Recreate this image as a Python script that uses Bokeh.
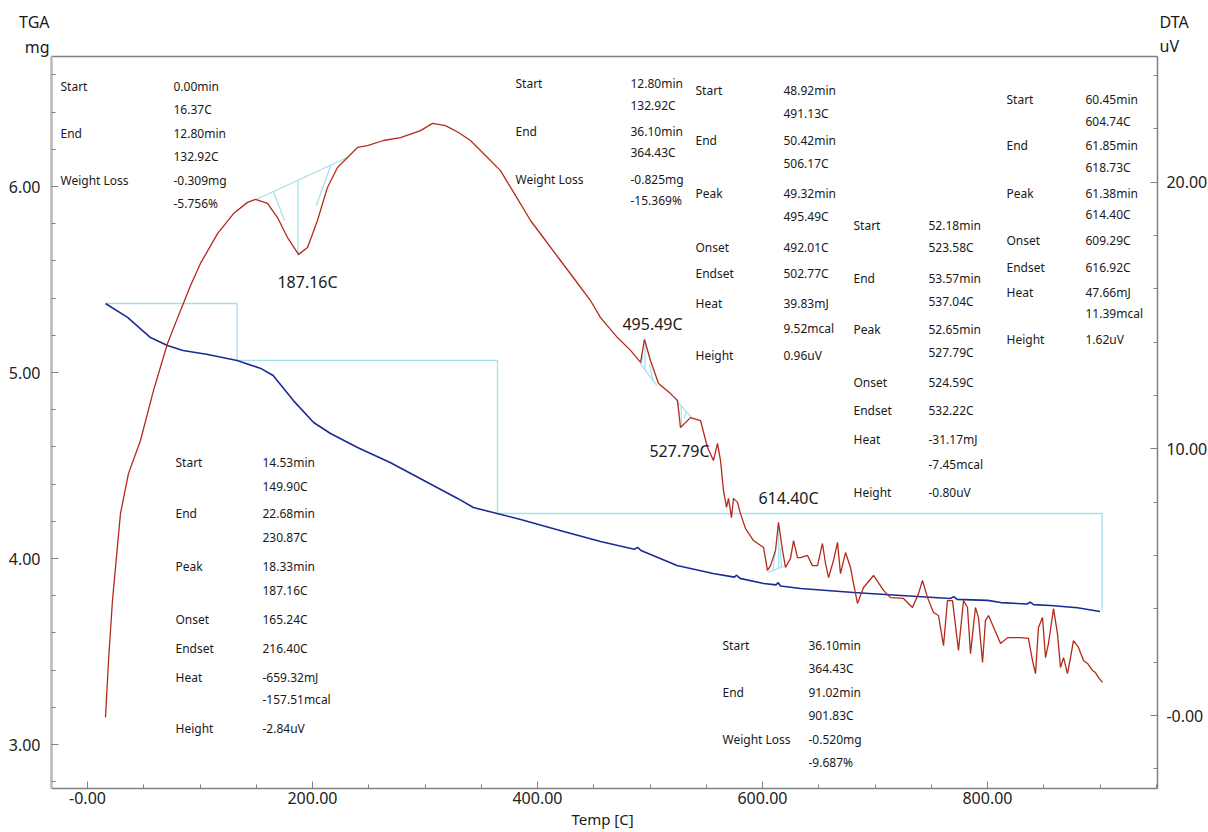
import numpy as np
from bokeh.plotting import figure
from bokeh.models import Range1d, LinearAxis, ColumnDataSource, FixedTicker
from bokeh.embed import file_html
from bokeh.resources import INLINE
from bokeh.core.properties import value

# ---------------- data ----------------
tga_temp = [16.0, 35.6, 56.0, 71.0, 85.0, 107.0, 133.0, 154.0, 165.0, 183.0, 201.0, 216.0,
            240.0, 269.0, 299.0, 329.0, 343.0, 364.0, 385.0, 420.0, 456.0, 486.0, 489.0,
            492.0, 524.0, 556.0, 575.0, 577.0, 580.0, 601.0, 612.0, 614.0, 616.0, 634.0,
            681.0, 723.0, 767.0, 770.0, 773.0, 800.0, 812.0, 835.0, 838.0, 841.0, 856.0,
            880.0, 900.0]
tga_mg = [5.371, 5.296, 5.188, 5.145, 5.118, 5.097, 5.065, 5.022, 4.984, 4.849, 4.731, 4.672,
          4.597, 4.516, 4.419, 4.323, 4.274, 4.242, 4.210, 4.151, 4.091, 4.050, 4.060,
          4.043, 3.962, 3.919, 3.900, 3.910, 3.893, 3.866, 3.858, 3.870, 3.852, 3.839,
          3.817, 3.801, 3.785, 3.795, 3.780, 3.775, 3.763, 3.755, 3.765, 3.752, 3.747,
          3.735, 3.715]

dta_temp = [16.0, 18.7, 22.2, 29.3, 36.4, 47.1, 58.7, 71.1, 82.7, 91.6, 100.4, 115.6, 129.8,
            142.2, 149.3, 160.0, 168.9, 177.8, 187.6, 195.6, 204.4, 213.3, 222.2, 231.1,
            240.0, 248.9, 263.1, 278.2, 296.0, 306.7, 318.2, 329.8, 340.4, 353.8, 367.1,
            380.4, 393.8, 407.1, 420.4, 433.8, 447.1, 456.0, 471.1, 482.7, 491.6, 495.1,
            500.4, 507.6, 518.2, 524.4, 527.1, 536.0, 544.9, 551.1, 556.4, 560.0, 562.7,
            565.3, 568.0, 569.8, 572.4, 574.2, 577.8, 580.4, 584.9, 592.0, 600.9, 604.4,
            607.1, 611.6, 614.2, 617.8, 620.4, 624.9, 627.6, 631.1, 633.8, 640.0, 644.4,
            648.9, 653.3, 656.0, 658.7, 663.1, 666.7, 669.3, 673.8, 678.2, 680.9, 684.4,
            689.8, 698.7, 707.6, 713.8, 725.3, 733.3, 738.7, 742.2, 746.7, 752.0, 756.4,
            760.9, 764.4, 768.9, 774.2, 778.7, 782.2, 784.9, 789.3, 792.0, 795.6, 798.2,
            800.9, 811.6, 817.8, 829.3, 836.4, 840.0, 842.7, 845.3, 848.9, 851.6, 854.2,
            858.7, 862.2, 864.9, 867.6, 871.1, 873.8, 876.4, 880.9, 885.3, 888.9, 893.3,
            896.0, 898.7, 902.2]
dta_uv = [-0.07, 2.06, 4.31, 7.57, 9.07, 10.31, 12.19, 13.95, 15.19, 16.12, 16.95, 18.07, 18.82,
          19.24, 19.35, 19.20, 18.67, 17.92, 17.29, 17.55, 18.56, 19.80, 20.55, 20.92,
          21.30, 21.37, 21.56, 21.67, 21.93, 22.20, 22.12, 21.86, 21.56, 21.00, 20.43,
          19.50, 18.56, 17.81, 17.06, 16.31, 15.56, 14.92, 14.17, 13.69, 13.24, 14.10,
          13.31, 12.45, 12.07, 11.81, 10.80, 11.17, 11.06, 10.05, 9.56, 10.20, 9.56,
          8.44, 7.80, 8.14, 7.42, 8.14, 7.99, 7.57, 7.01, 6.56, 6.30, 5.44,
          5.62, 6.19, 7.24, 6.19, 5.55, 5.89, 6.56, 5.92, 5.92, 6.00, 5.62,
          5.62, 6.45, 5.70, 5.17, 5.81, 6.49, 5.32, 6.11, 5.55, 4.95, 4.20,
          4.80, 5.25, 4.69, 4.42, 4.39, 4.05, 4.57, 5.06, 4.42, 3.86, 3.75,
          2.62, 4.31, 4.31, 2.44, 4.31, 4.05, 2.32, 4.05, 3.67, 1.99, 3.56,
          3.75, 2.70, 2.92, 2.92, 2.89, 2.06, 1.57, 3.30, 3.67, 2.17, 2.70,
          4.01, 3.07, 1.80, 2.17, 1.57, 2.17, 2.81, 2.55, 2.06, 1.95, 1.69,
          1.61, 1.42, 1.24]

# TGA step analysis (start temps / end temps / masses)
step_temp = [16.37, 132.92, 132.92, 364.43, 364.43, 901.83, 901.83]
step_mg = [5.371, 5.371, 5.065, 5.065, 4.242, 4.242, 3.715]

# DTA peak analysis
peak_start = [149.90, 491.13, 523.58, 604.74]
peak_end = [230.87, 506.17, 537.04, 618.73]
peak_base_start = [19.35, 13.20, 11.81, 5.36]
peak_base_end = [20.92, 12.37, 11.17, 5.59]
peak_temp = [187.16, 495.49, 527.79, 614.40]
peak_height = [-2.84, 0.96, -0.80, 1.62]
peak_onset = [165.24, 492.01, 524.59, 609.29]
peak_endset = [216.40, 502.77, 532.22, 616.92]
peak_labels = ["187.16C", "495.49C", "527.79C", "614.40C"]

x_ticks = [0, 200, 400, 600, 800]
x_tick_labels = ["-0.00", "200.00", "400.00", "600.00", "800.00"]
tga_ticks = [3, 4, 5, 6]
tga_tick_labels = ["3.00", "4.00", "5.00", "6.00"]
dta_ticks = [0, 10, 20]
dta_tick_labels = ["-0.00", "10.00", "20.00"]

# annotation blocks: (px_x, px_y, text)   -- layout positions in window pixels
blocks = [
    (60, 86, "Start"), (173, 86, "0.00min"), (173, 109, "16.37C"),
    (60, 133, "End"), (173, 133, "12.80min"), (173, 156, "132.92C"),
    (60, 180, "Weight Loss"), (173, 180, "-0.309mg"), (173, 203, "-5.756%"),

    (515, 83, "Start"), (630, 83, "12.80min"), (630, 105, "132.92C"),
    (515, 131, "End"), (630, 131, "36.10min"), (630, 152, "364.43C"),
    (515, 179, "Weight Loss"), (630, 179, "-0.825mg"), (630, 200, "-15.369%"),

    (695, 90, "Start"), (783, 90, "48.92min"), (783, 113, "491.13C"),
    (695, 140, "End"), (783, 140, "50.42min"), (783, 163, "506.17C"),
    (695, 193, "Peak"), (783, 193, "49.32min"), (783, 216, "495.49C"),
    (695, 247, "Onset"), (783, 247, "492.01C"),
    (695, 273, "Endset"), (783, 273, "502.77C"),
    (695, 303, "Heat"), (783, 303, "39.83mJ"), (783, 328, "9.52mcal"),
    (695, 355, "Height"), (783, 355, "0.96uV"),

    (853, 225, "Start"), (928, 225, "52.18min"), (928, 247, "523.58C"),
    (853, 278, "End"), (928, 278, "53.57min"), (928, 301, "537.04C"),
    (853, 329, "Peak"), (928, 329, "52.65min"), (928, 352, "527.79C"),
    (853, 382, "Onset"), (928, 382, "524.59C"),
    (853, 410, "Endset"), (928, 410, "532.22C"),
    (853, 439, "Heat"), (928, 439, "-31.17mJ"), (928, 464, "-7.45mcal"),
    (853, 492, "Height"), (928, 492, "-0.80uV"),

    (1006, 99, "Start"), (1085, 99, "60.45min"), (1085, 121, "604.74C"),
    (1006, 145, "End"), (1085, 145, "61.85min"), (1085, 167, "618.73C"),
    (1006, 193, "Peak"), (1085, 193, "61.38min"), (1085, 214, "614.40C"),
    (1006, 240, "Onset"), (1085, 240, "609.29C"),
    (1006, 267, "Endset"), (1085, 267, "616.92C"),
    (1006, 292, "Heat"), (1085, 292, "47.66mJ"), (1085, 313, "11.39mcal"),
    (1006, 339, "Height"), (1085, 339, "1.62uV"),

    (175, 462, "Start"), (262, 462, "14.53min"), (262, 486, "149.90C"),
    (175, 513, "End"), (262, 513, "22.68min"), (262, 537, "230.87C"),
    (175, 566, "Peak"), (262, 566, "18.33min"), (262, 590, "187.16C"),
    (175, 619, "Onset"), (262, 619, "165.24C"),
    (175, 648, "Endset"), (262, 648, "216.40C"),
    (175, 677, "Heat"), (262, 677, "-659.32mJ"), (262, 699, "-157.51mcal"),
    (175, 728, "Height"), (262, 728, "-2.84uV"),

    (722, 645, "Start"), (808, 645, "36.10min"), (808, 668, "364.43C"),
    (722, 692, "End"), (808, 692, "91.02min"), (808, 715, "901.83C"),
    (722, 739, "Weight Loss"), (808, 739, "-0.520mg"), (808, 762, "-9.687%"),
]
peak_label_pos = [(307, 281), (652, 323), (679, 450), (788, 497)]
unit_titles = [(49, 21, "TGA", "right"), (49, 46, "mg", "right"),
               (1159, 21, "DTA", "left"), (1159, 45, "uV", "left")]

# ---------------- geometry ----------------
W, H = 1208, 830
X_LO, X_HI = -32.0, 951.0          # visible plot box (temperature)
TGA_LO, TGA_HI = 2.763, 6.699      # visible plot box (mg)
DTA_LO, DTA_HI = -2.74, 24.71      # visible plot box (uV)
# whole canvas in data units (frame fills the canvas; axes sit at fixed locations)
XC = ((0 - 87.0) / 1.125, (W - 87.0) / 1.125)
TC = (6.0 - (H - 186.0) / 186.0, 6.0 + 186.0 / 186.0)
DC = ((715.0 - H) / 26.67, 715.0 / 26.67)


def px_to_data(x, y):
    return (x - 87.0) / 1.125, 6.0 - (y - 186.0) / 186.0


RED = "#b42a1a"
BLUE = "#1a2b96"
CYAN = "#a3e0ea"
AXC = "#808080"
TXT = "#1a1a1a"
FONT = "Noto Sans"

p = figure(width=W, height=H, output_backend="svg", toolbar_location=None,
           x_range=Range1d(*XC), y_range=Range1d(*TC),
           min_border_left=0, min_border_right=0, min_border_top=0, min_border_bottom=0)
p.extra_y_ranges = {"dta": Range1d(*DC)}
p.xgrid.visible = False
p.ygrid.visible = False
p.outline_line_color = None
p.background_fill_color = "white"
p.border_fill_color = "white"


def style_axis(ax, minor, major, labels, color, width):
    ax.ticker = FixedTicker(ticks=major, minor_ticks=minor)
    ax.major_label_overrides = {t: l for t, l in zip(major, labels)}
    ax.axis_line_color = color
    ax.axis_line_width = width
    ax.major_tick_line_color = AXC
    ax.minor_tick_line_color = AXC
    ax.major_tick_in = 7
    ax.major_tick_out = 0
    ax.minor_tick_in = 4
    ax.minor_tick_out = 0
    ax.major_label_text_font = FONT
    ax.major_label_text_font_size = "16px"
    ax.major_label_text_color = "#222222"


xa = p.xaxis[0]
style_axis(xa, list(np.arange(50, 951, 50)), x_ticks, x_tick_labels, AXC, 1.5)
xa.fixed_location = TGA_LO
xa.bounds = (X_LO, X_HI)
xa.major_label_standoff = 3
xa.axis_label = "Temp  [C]"
xa.axis_label_standoff = 2
xa.axis_label_text_font = FONT
xa.axis_label_text_font_size = "15px"
xa.axis_label_text_font_style = "normal"
xa.axis_label_text_color = TXT

ya = p.yaxis[0]
style_axis(ya, list(np.round(np.arange(2.8, 6.7, 0.2), 2)), tga_ticks, tga_tick_labels, "#b8b8b8", 2.5)
ya.fixed_location = X_LO
ya.bounds = (TGA_LO, TGA_HI)
ya.major_label_standoff = 11

ra = LinearAxis(y_range_name="dta")
style_axis(ra, list(np.arange(-2, 25, 2)), dta_ticks, dta_tick_labels, AXC, 1.5)
ra.fixed_location = X_HI
ra.bounds = (DTA_LO, DTA_HI)
ra.major_label_standoff = 9
p.add_layout(ra, "right")

# top border of the plot box
p.line([X_LO, X_HI], [TGA_HI, TGA_HI], line_color=AXC, line_width=1.5)

# TGA step lines
p.line(step_temp, step_mg, line_color=CYAN, line_width=1.3)

# DTA peak helper lines (baseline, peak height, short onset/endset tangents)
for s, e, bs, be, pt, h, on, en in zip(peak_start, peak_end, peak_base_start, peak_base_end,
                                       peak_temp, peak_height, peak_onset, peak_endset):
    base_at = lambda t: bs + (be - bs) * (t - s) / (e - s)
    bpk = base_at(pt)
    p.line([s, e], [bs, be], y_range_name="dta", line_color=CYAN, line_width=1.2)
    p.line([pt, pt], [bpk, bpk + h], y_range_name="dta", line_color=CYAN, line_width=1.2)
    tip = bpk + h
    for t0 in (on, en):
        b0 = base_at(t0)
        p.line([t0, t0 + 0.45 * (pt - t0)], [b0, b0 + 0.45 * (tip - b0)], y_range_name="dta",
               line_color=CYAN, line_width=1.2)

# curves
p.line(tga_temp, tga_mg, line_color=BLUE, line_width=1.6)
p.line(dta_temp, dta_uv, y_range_name="dta", line_color=RED, line_width=1.3)

# annotation texts
ax_, ay_ = zip(*[px_to_data(x, y) for x, y, _ in blocks])
src = ColumnDataSource(dict(x=list(ax_), y=list(ay_), t=[b[2] for b in blocks]))
p.text("x", "y", "t", source=src, text_font=value(FONT), text_font_size=value("12px"),
       text_color=TXT, text_align="left", text_baseline="middle")

lx, ly = zip(*[px_to_data(x, y) for x, y in peak_label_pos])
src2 = ColumnDataSource(dict(x=list(lx), y=list(ly), t=peak_labels))
p.text("x", "y", "t", source=src2, text_font=value(FONT), text_font_size=value("16px"),
       text_color=TXT, text_align="center", text_baseline="middle")

for x, y, t, al in unit_titles:
    dx, dy = px_to_data(x, y)
    p.text([dx], [dy], [t], text_font=value(FONT), text_font_size=value("16px"),
           text_color=TXT, text_align=al, text_baseline="middle")

open("out.html", "w").write(file_html(p, INLINE))
